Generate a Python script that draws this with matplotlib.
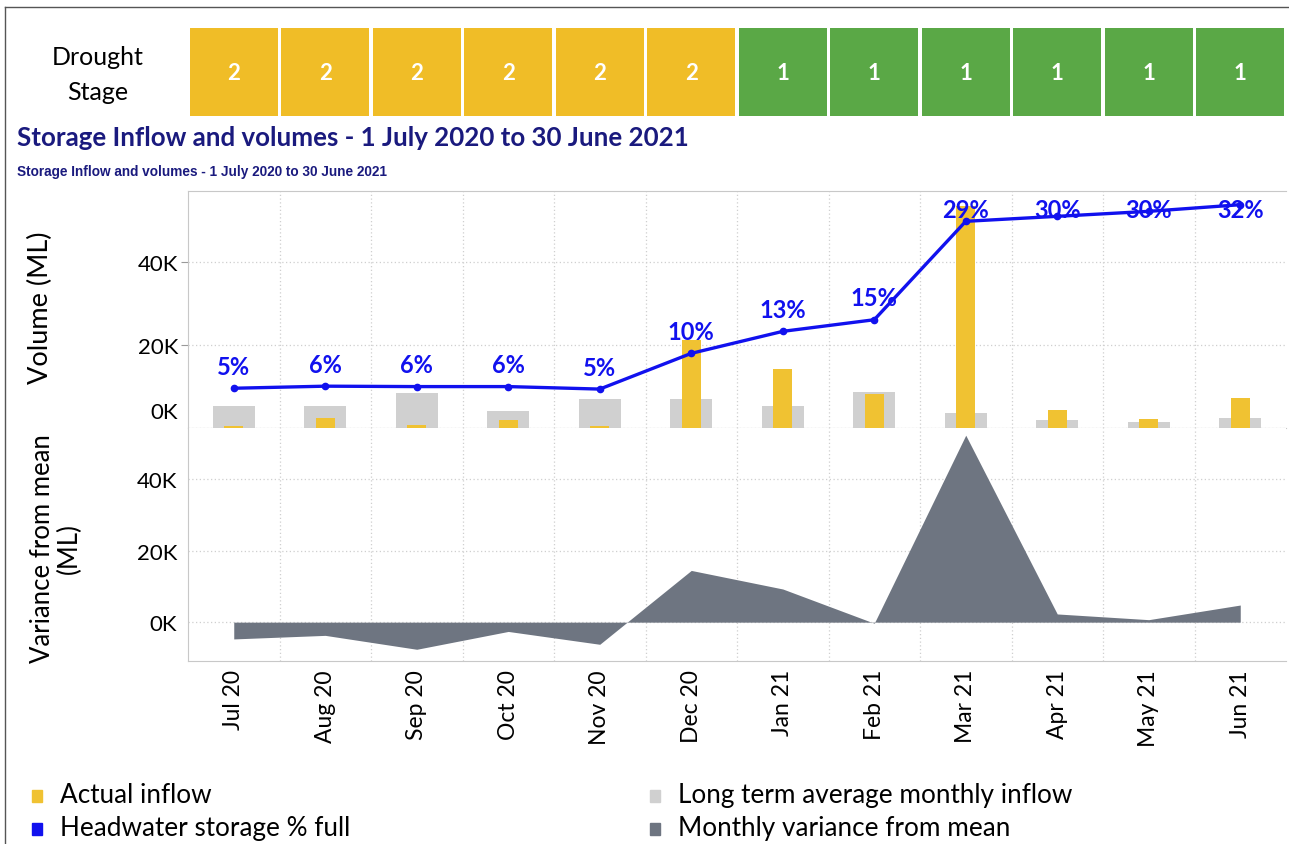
import matplotlib.pyplot as plt
import numpy as np
from matplotlib.patches import Rectangle
from matplotlib.lines import Line2D
from matplotlib.ticker import FuncFormatter
import matplotlib.transforms as mtrans

plt.rcParams['font.family'] = ['Lato', 'DejaVu Sans']

months = ['Jul 20', 'Aug 20', 'Sep 20', 'Oct 20', 'Nov 20', 'Dec 20',
          'Jan 21', 'Feb 21', 'Mar 21', 'Apr 21', 'May 21', 'Jun 21']
drought_stage = [2, 2, 2, 2, 2, 2, 1, 1, 1, 1, 1, 1]
actual_inflow = [300, 2300, 600, 1800, 500, 21100, 14100, 8000, 53500, 4300, 2100, 7200]
avg_inflow = [5300, 5300, 8400, 4000, 6900, 6900, 5300, 8600, 3500, 1800, 1300, 2300]
storage_volume = [9500, 10000, 9900, 9900, 9300, 17900, 23200, 26000, 49700, 50900, 52100, 53700]
storage_pct = [5, 6, 6, 6, 5, 10, 13, 15, 29, 30, 30, 32]
variance = [-4700, -3700, -7600, -2600, -6200, 14500, 9300, -300, 52400, 2300, 700, 4800]

yellow = '#F0C232'
stage_col = {2: '#F0BD27', 1: '#5AA846'}
grey_bar = '#D0D0D0'
blue = '#1111EE'
dark = '#6E7581'
navy = '#1A1A7E'
grid_col = '#CFCFCF'

W, H = 1289, 845
fig = plt.figure(figsize=(W / 100, H / 100), dpi=100)
x = np.arange(len(months))

# drought stage strip
ax_s = fig.add_axes([188 / W, 1 - 117 / H, 1098 / W, 88 / H])
ax_s.bar(x, 1, width=0.965, color=[stage_col[s] for s in drought_stage])
for i, s in enumerate(drought_stage):
    ax_s.text(i, 0.5, str(s), color='white', fontsize=16, fontweight='bold',
              ha='center', va='center')
ax_s.set_xlim(-0.5, 11.5)
ax_s.set_ylim(0, 1)
ax_s.axis('off')

fig.text(98 / W, 1 - 75 / H, 'Drought\nStage', fontsize=18, ha='center',
         va='center', linespacing=1.6)
fig.text(17 / W, 1 - 138 / H, 'Storage Inflow and volumes - 1 July 2020 to 30 June 2021',
         fontsize=18.6, fontweight='bold', color=navy, va='center')
fig.text(17 / W, 1 - 172 / H, 'Storage Inflow and volumes - 1 July 2020 to 30 June 2021',
         fontsize=9.8, fontweight='bold', color=navy, va='center',
         family=['Liberation Sans Narrow', 'Liberation Sans', 'DejaVu Sans'])

kfmt = FuncFormatter(lambda v, p: f'{int(round(v / 1000))}K')

# volumes panel
ax1 = fig.add_axes([188 / W, 1 - 428.7 / H, 1098 / W, 236.7 / H])
ax1.bar(x, avg_inflow, width=0.46, color=grey_bar, zorder=2)
ax1.bar(x, actual_inflow, width=0.21, color=yellow, zorder=3)
ax1.plot(x, storage_volume, color=blue, lw=2.4, marker='o', ms=4.5, zorder=4)
ymax1 = 57000
for i, (v, p) in enumerate(zip(storage_volume, storage_pct)):
    ax1.text(i, min(v + 5300, 52500), f'{p}%', color=blue, fontsize=17,
             fontweight='bold', ha='center', va='center', zorder=5)
ax1.set_xlim(-0.5, 11.5)
ax1.set_ylim(0, ymax1)
ax1.set_yticks([0, 20000, 40000])
ax1.yaxis.set_major_formatter(kfmt)
ax1.set_xticks(x)
ax1.set_xticks(np.arange(0.5, 11, 1), minor=True)
ax1.tick_params(axis='x', which='both', length=0, labelbottom=False)
ax1.tick_params(axis='y', length=5, color='#999999', labelsize=16, pad=2)
ax1.yaxis.get_major_ticks()[0].tick1line.set_visible(False)
ax1.yaxis.grid(True, ls=(0, (1, 2)), color=grid_col, lw=0.9)
ax1.xaxis.grid(True, which='minor', ls=(0, (1, 2)), color=grid_col, lw=0.9)
ax1.set_axisbelow(True)
for s in ['top', 'left', 'bottom']:
    ax1.spines[s].set_color('#C8C8C8')
ax1.spines['right'].set_visible(False)
lab0 = ax1.get_yticklabels()[0]
lab0.set_transform(lab0.get_transform() + mtrans.ScaledTranslation(0, 18 / 100, fig.dpi_scale_trans))

# variance panel
ax2 = fig.add_axes([188 / W, 1 - 661.7 / H, 1098 / W, 233 / H])
ax2.fill_between(x, 0, variance, color=dark, lw=0, zorder=3)
ax2.set_xlim(-0.5, 11.5)
ax2.set_ylim(-10800, 54500)
ax2.set_yticks([0, 20000, 40000])
ax2.yaxis.set_major_formatter(kfmt)
ax2.set_xticks(x)
ax2.set_xticklabels(months, rotation=90, fontsize=16.5)
ax2.set_xticks(np.arange(0.5, 11, 1), minor=True)
ax2.tick_params(axis='x', which='both', length=0, pad=6)
ax2.tick_params(axis='y', length=0, labelsize=16, pad=8)
ax2.yaxis.grid(True, ls=(0, (1, 2)), color=grid_col, lw=0.9)
ax2.xaxis.grid(True, which='minor', ls=(0, (1, 2)), color=grid_col, lw=0.9)
ax2.set_axisbelow(True)
for s in ['left', 'bottom']:
    ax2.spines[s].set_color('#C8C8C8')
ax2.spines['top'].set_visible(False)
ax2.spines['right'].set_visible(False)

fig.text(40 / W, 1 - 308 / H, 'Volume (ML)', rotation=90, fontsize=19.5,
         ha='center', va='center')
fig.text(56 / W, 1 - 549 / H, 'Variance from mean\n(ML)', rotation=90, fontsize=18.5,
         ha='center', va='center', multialignment='center', linespacing=1.1)

# legend
legend_items = [
    (32, 797, yellow, 'Actual inflow'),
    (32, 830, blue, 'Headwater storage % full'),
    (650, 797, grey_bar, 'Long term average monthly inflow'),
    (650, 830, dark, 'Monthly variance from mean'),
]
for lx, ly, c, t in legend_items:
    fig.add_artist(Rectangle((lx / W, 1 - (ly + 6) / H), 10 / W, 12 / H,
                             transform=fig.transFigure, color=c))
    fig.text((lx + 28) / W, 1 - (ly - 1) / H, t, fontsize=18.8, va='center')

# outer frame
fig.add_artist(Line2D([5 / W, 5 / W], [0, 1 - 8 / H], color='#555555', lw=1,
                      transform=fig.transFigure))
fig.add_artist(Line2D([5 / W, 1], [1 - 8 / H, 1 - 8 / H], color='#555555', lw=1,
                      transform=fig.transFigure))

fig.savefig('out.png', dpi=100)
